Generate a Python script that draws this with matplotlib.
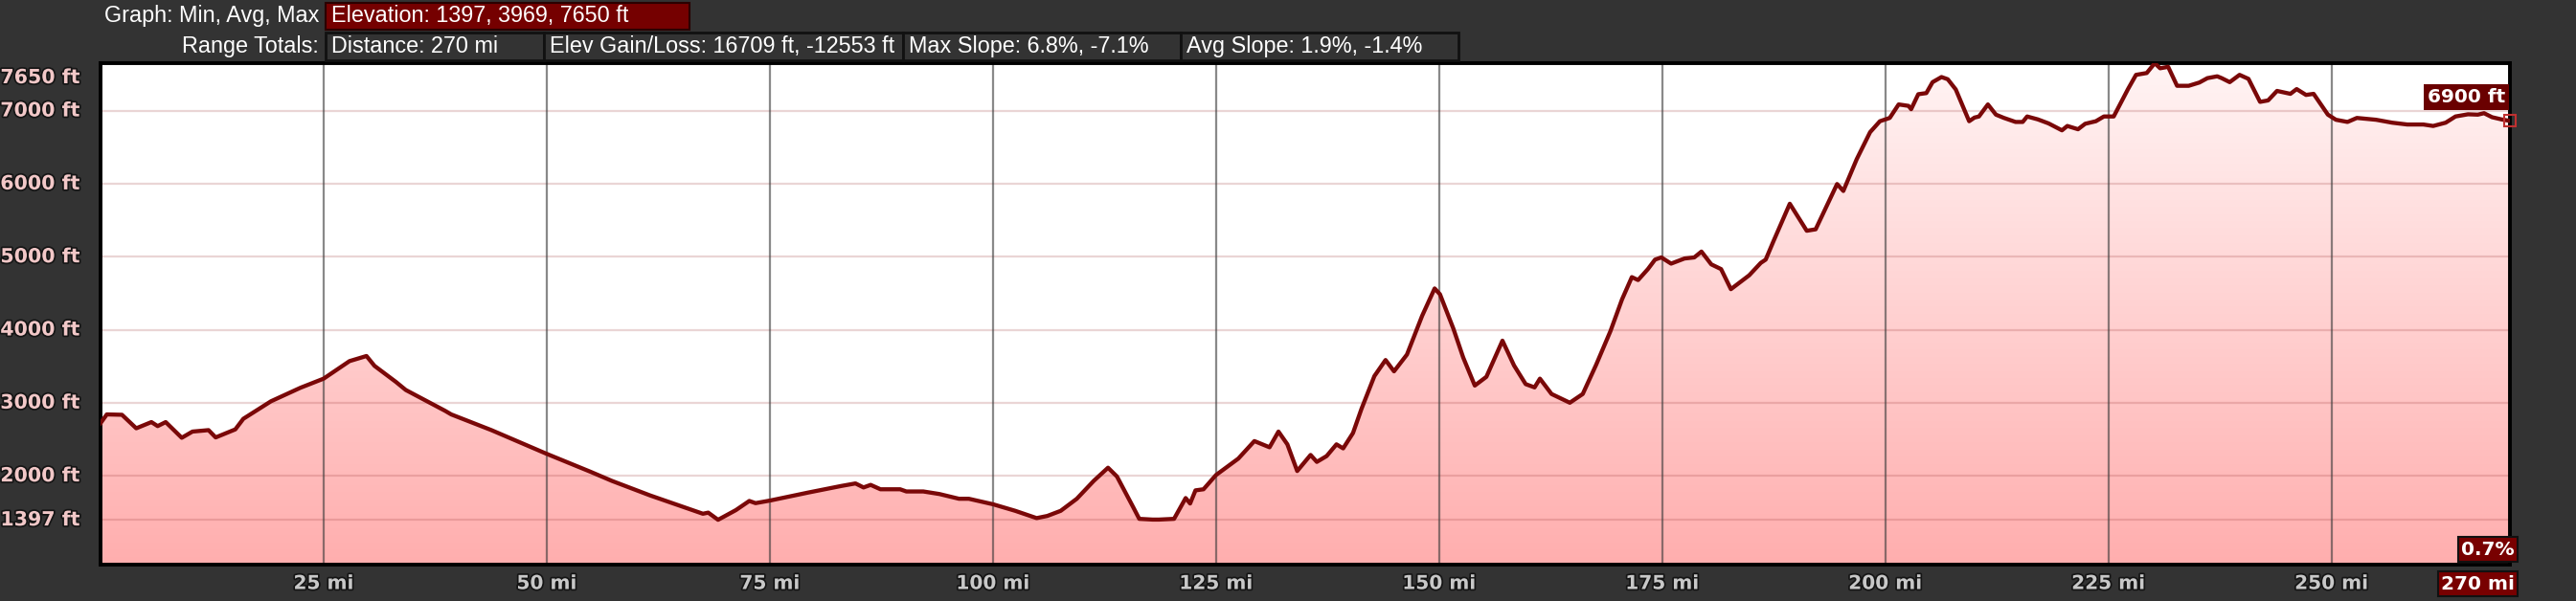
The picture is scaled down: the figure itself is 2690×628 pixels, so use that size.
import numpy as np
import matplotlib
matplotlib.use("Agg")
import matplotlib.pyplot as plt
import matplotlib.patheffects as pe
from matplotlib.colors import LinearSegmentedColormap
from matplotlib.patches import Rectangle

# profil d'altitude (mi, ft)
miles = [0.0, 0.7, 2.4, 4.0, 5.7, 6.4, 7.3, 9.1, 10.3, 12.1, 12.9, 15.1, 16.0, 19.1,
         22.4, 25.0, 27.9, 29.8, 30.7, 33.1, 34.2, 38.6, 39.3, 43.8, 50.0, 54.9,
         57.3, 61.6, 67.5, 68.1, 69.2, 71.2, 72.7, 73.4, 75.0, 79.3, 83.0, 84.6,
         85.5, 86.3, 87.4, 89.6, 90.3, 92.2, 94.0, 96.2, 97.3, 100.0, 102.5, 104.9,
         106.1, 107.6, 109.4, 111.3, 112.9, 113.9, 115.7, 116.4, 117.9, 118.6, 120.3,
         121.6, 122.1, 122.7, 123.6, 125.0, 127.5, 129.3, 131.0, 132.0, 133.0, 134.1,
         135.6, 136.3, 137.4, 138.5, 139.25, 140.35, 141.3, 142.75, 144.0, 144.95,
         146.4, 148.1, 149.5, 150.1, 151.6, 152.7, 154.0, 155.3, 157.1, 158.4, 159.7,
         160.7, 161.3, 162.6, 164.65, 166.1, 167.6, 169.2, 170.5, 171.6, 172.3, 173.4,
         174.2, 174.9, 176.0, 177.5, 178.6, 179.4, 180.5, 181.6, 182.7, 184.75, 186.05,
         186.6, 187.5, 189.3, 191.2, 192.2, 193.3, 194.6, 195.3, 196.8, 198.3, 199.4,
         200.5, 201.5, 202.6, 202.9, 203.7, 204.6, 205.3, 206.3, 207.0, 207.9, 209.4,
         210.0, 210.5, 211.5, 212.4, 213.3, 214.6, 215.4, 215.9, 217.1, 218.3, 219.8,
         220.4, 221.6, 222.4, 223.6, 224.5, 225.6, 227.2, 228.1, 229.3, 230.2, 230.8,
         231.7, 232.7, 234.0, 235.2, 236.1, 237.2, 237.7, 238.6, 239.7, 240.7, 242.0,
         242.9, 243.9, 245.4, 246.1, 247.15, 248.0, 249.6, 250.5, 251.8, 252.85, 255.0,
         256.8, 258.5, 260.3, 261.4, 262.8, 263.9, 265.3, 266.4, 267.1, 268.0, 269.05,
         270.0]
elev = [2720, 2840, 2835, 2650, 2735, 2680, 2735, 2520, 2605, 2625, 2525, 2635, 2780, 3020,
        3205, 3330, 3570, 3640, 3505, 3285, 3175, 2890, 2840, 2625, 2300, 2055,
        1930, 1730, 1480, 1495, 1397, 1530, 1655, 1625, 1660, 1770, 1860, 1895,
        1840, 1875, 1815, 1815, 1785, 1785, 1750, 1685, 1685, 1610, 1520, 1420,
        1450, 1520, 1685, 1930, 2110, 1990, 1575, 1410, 1400, 1400, 1410,
        1695, 1620, 1800, 1815, 2010, 2235, 2475, 2390, 2605, 2430, 2065,
        2285, 2190, 2270, 2430, 2375, 2585, 2915, 3365, 3585, 3430,
        3660, 4190, 4565, 4485, 4015, 3620, 3235, 3355, 3850, 3510, 3255,
        3210, 3330, 3120, 3000, 3120, 3520, 3980, 4415, 4720, 4680, 4830,
        4960, 4990, 4905, 4975, 4990, 5070, 4895, 4830, 4555, 4745, 4915,
        4960, 5220, 5725, 5355, 5375, 5660, 5995, 5900, 6335, 6705, 6855,
        6900, 7085, 7065, 7020, 7225, 7240, 7390, 7460, 7430, 7290, 6855,
        6905, 6920, 7085, 6945, 6900, 6845, 6845, 6920, 6880, 6825, 6730,
        6790, 6745, 6820, 6855, 6920, 6920, 7295, 7490, 7515, 7650, 7580,
        7600, 7340, 7340, 7385, 7445, 7470, 7445, 7390, 7490, 7435, 7120,
        7140, 7270, 7230, 7295, 7215, 7230, 6945, 6875, 6845, 6900, 6875,
        6835, 6810, 6810, 6790, 6835, 6920, 6950, 6945, 6965, 6910, 6880,
        6860]

y_ticks = [1397, 2000, 3000, 4000, 5000, 6000, 7000, 7650]
x_ticks = [25, 50, 75, 100, 125, 150, 175, 200, 225, 250]

header_label1 = "Graph: Min, Avg, Max"
header_box1 = "Elevation: 1397, 3969, 7650 ft"
header_label2 = "Range Totals:"
header_boxes2 = ["Distance: 270 mi", "Elev Gain/Loss: 16709 ft, -12553 ft",
                 "Max Slope: 6.8%, -7.1%", "Avg Slope: 1.9%, -1.4%"]
cursor_elev = "6900 ft"
cursor_slope = "0.7%"
cursor_dist = "270 mi"

W, H = 2690, 628
BG = "#333333"
ROUGE = "#780000"
ymin, ymax = 783, 7650

fig = plt.figure(figsize=(W / 100, H / 100), dpi=100, facecolor=BG)
ax = fig.add_axes([105 / W, 1 - 590 / H, (2621 - 105) / W, (590 - 66) / H])

# remplissage en dégradé sous la courbe
fill = ax.fill_between(miles, elev, ymin, color="none", lw=0)
grad = np.linspace(0, 1, 256).reshape(-1, 1)
cmap = LinearSegmentedColormap.from_list("rose", ["#ffaeae", "#fff4f4"])
img = ax.imshow(grad, extent=[0, 270, ymin, ymax], origin="lower", aspect="auto",
                cmap=cmap, zorder=1)
img.set_clip_path(fill.get_paths()[0], transform=ax.transData)
ax.set_facecolor("white")

for y in y_ticks[:-1]:
    ax.axhline(y, color="#a04040", alpha=0.22, lw=1.6, zorder=2)
for x in x_ticks:
    ax.axvline(x, color="#3a3a3a", alpha=0.6, lw=1.6, zorder=2)

ax.plot(miles, elev, color="#7a0808", lw=3.1, zorder=3, solid_joinstyle="round")
ax.plot([miles[-1]], [elev[-1]], marker="s", ms=9, mfc="none", mec="#c03030",
        mew=1.5, zorder=4, clip_on=False)

ax.set_xlim(0, 270)
ax.set_ylim(ymin, ymax)
ax.set_xticks([])
ax.set_yticks([])
for s in ax.spines.values():
    s.set_color("black")
    s.set_linewidth(2.8)

ombre = [pe.withStroke(linewidth=2.5, foreground="#151515")]
for y in y_ticks:
    dy = -15 if y == 7650 else 0
    ax.annotate(f"{y} ft", xy=(0, y), xycoords=("axes fraction", "data"),
                xytext=(-22, dy), textcoords="offset pixels", ha="right", va="center",
                fontsize=14.8, fontweight="bold", color="#f2c8c8",
                path_effects=ombre, annotation_clip=False)
for x in x_ticks:
    ax.annotate(f"{x} mi", xy=(x, 0), xycoords=("data", "axes fraction"),
                xytext=(0, -20), textcoords="offset pixels", ha="center", va="center",
                fontsize=14.5, fontweight="bold", color="#c8c8c8",
                path_effects=ombre, annotation_clip=False)

boite = dict(boxstyle="square,pad=0.15", fc=ROUGE, ec="#111111", lw=1.5)
ax.annotate(cursor_dist, xy=(270, 0), xycoords=("data", "axes fraction"),
            xytext=(5, -20), textcoords="offset pixels", ha="right", va="center",
            fontsize=14.5, fontweight="bold", color="white", bbox=boite,
            annotation_clip=False)
ax.annotate(cursor_slope, xy=(270, 0), xycoords=("data", "axes fraction"),
            xytext=(5, 16), textcoords="offset pixels", ha="right", va="center",
            fontsize=14.5, fontweight="bold", color="white", bbox=boite,
            annotation_clip=False)
ax.annotate(cursor_elev, xy=(270, elev[-1]), xytext=(-5, 25),
            textcoords="offset pixels", ha="right", va="center",
            fontsize=14.5, fontweight="bold", color="white",
            bbox=dict(boxstyle="square,pad=0.2", fc="#6a0000", ec="none"),
            annotation_clip=False)

# en-tête
hdr = fig.add_axes([0, 0, 1, 1], zorder=5)
hdr.set_xlim(0, W)
hdr.set_ylim(H, 0)
hdr.axis("off")
police = dict(family=["Liberation Sans", "DejaVu Sans"], fontsize=16.8, color="white",
              va="center")
hdr.text(333, 17, header_label1, ha="right", **police)
hdr.add_patch(Rectangle((340, 3), 380, 28, fc="#750000", ec="#2a0000", lw=1.5))
hdr.text(346, 17, header_box1, ha="left", **police)
hdr.text(333, 48, header_label2, ha="right", **police)
bords = [340, 568, 943, 1233, 1523]
for i, txt in enumerate(header_boxes2):
    hdr.add_patch(Rectangle((bords[i], 34), bords[i + 1] - bords[i], 29,
                            fc=BG, ec="#111111", lw=2, zorder=1 + i))
    hdr.text(bords[i] + 6, 48.5, txt, ha="left", zorder=1.5 + i, **police)

fig.savefig("out.png", dpi=100, facecolor=BG)
